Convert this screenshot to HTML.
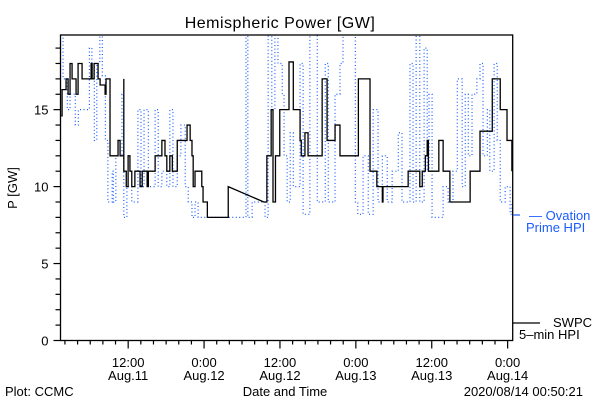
<!DOCTYPE html>
<html><head><meta charset="utf-8"><style>
body{margin:0;background:#fff}
svg{display:block;font-family:"Liberation Sans",sans-serif}
</style></head><body>
<svg id="chart" width="600" height="400" viewBox="0 0 600 400" xmlns="http://www.w3.org/2000/svg">
<rect width="600" height="400" fill="#fff"/>
<text x="280" y="28" font-size="16" text-anchor="middle" letter-spacing="0.5">Hemispheric Power [GW]</text>
<text transform="translate(17,188) rotate(-90)" font-size="13" text-anchor="middle">P [GW]</text>
<text x="285" y="396" font-size="13" text-anchor="middle">Date and Time</text>
<text x="5" y="396" font-size="13">Plot: CCMC</text>
<text x="583" y="396" font-size="13" text-anchor="end">2020/08/14 00:50:21</text>
<g id="axes"></g>
<clipPath id="clip"><rect x="60.5" y="35" width="452.2" height="305.5"/></clipPath>
<g id="series" clip-path="url(#clip)"></g>
<rect x="60.5" y="35" width="452.2" height="305.5" fill="none" stroke="#000" stroke-width="1.3"/>
<line x1="513" y1="215" x2="520" y2="215" stroke="#1a5cff" stroke-width="1.2"/>
<text x="529" y="220" font-size="13" fill="#1a5cff">— Ovation</text>
<text x="526" y="232" font-size="13" fill="#1a5cff">Prime HPI</text>
<line x1="513" y1="323" x2="540" y2="323" stroke="#000" stroke-width="1.2"/>
<text x="553" y="327" font-size="13">SWPC</text>
<text x="519" y="339" font-size="13">5–min HPI</text>
</svg>
<script>
const swpcHours=[1.4,1.55,2.18,2.5,2.81,3.13,3.76,4.08,4.71,6.14,6.3,6.61,7.24,7.56,8.35,8.5,9.13,9.13,10.4,10.4,10.72,11.31,11.31,11.7,11.99,12.28,12.57,13.06,13.88,14.22,15.0,15.19,16.26,16.26,17.33,17.33,17.82,18.11,18.59,18.98,19.76,21.02,21.31,21.8,22.09,22.28,22.57,23.64,23.84,24.52,27.33,27.82,33.45,33.93,34.61,34.9,35.29,35.97,37.43,38.11,39.18,39.37,39.95,40.44,41.12,42.67,42.96,43.45,44.42,44.71,45.49,45.97,48.4,48.98,50.24,51.32,52.19,52.29,56.07,56.27,57.82,58.11,58.5,58.99,59.28,59.47,60.54,61.12,61.8,62.87,65.3,66.07,67.63,69.57,70.05,70.83,71.9,72.67];
const swpcValues=[14.6,16.3,17,16,18,17,16,18,17,18,17,18,17,16.6,16,17,17,12,12,13,12,17,11,10,12,11,10,11,10,11,10,11,11,12,12,13,12,11,12,11,13,13,14,13,12,10,11,10,9,8,8,10,9,12,15,9,12,15,18.1,15,13,12,13.5,12,12,17,17,13,13,14,12,12,17,17,11,10,9,10,10,11,11,10,11,12,13,11,11,13,11,9,9,11,13.6,17,17,15,13,11];
const ovationHours=[1.6,1.7,2.38,2.81,3.64,4.12,5.68,5.87,6.26,6.65,7.04,7.52,7.91,8.4,8.79,9.47,9.66,10.05,11.02,11.31,11.8,12.57,13.54,14.03,14.51,15.19,16.26,16.75,17.33,18.11,18.59,19.08,19.76,20.34,21.02,21.5,22.09,22.57,23.06,23.64,30.44,30.63,30.92,31.6,33.64,34.13,34.71,35.2,35.68,36.36,36.65,37.14,37.62,38.11,39.18,39.66,40.73,41.9,43.16,43.64,44.71,45.49,45.97,46.75,47.92,48.3,49.14,49.96,50.73,51.51,52.19,52.96,53.74,54.71,55.3,56.56,57.04,57.53,58.11,58.79,59.28,59.57,60.05,61.03,61.8,62.58,63.36,64.04,64.81,65.3,65.78,66.37,67.14,67.63,68.11,68.79,69.18,69.86,70.35,70.83,71.61,72.39,72.67];
const ovationValues=[21,17,15,16,14,15,15,19,18,13,18,21,17.2,13,9,11,9,12,16,8,10,9,15,10,15,10,15,10,11,10,15,10,12,14,10,9,8,9,8,8,8,21,8,9,8,21,15,21,18,16,12,9,13.5,10,18,8.2,21,9,18,9,16,18,21,21,9,8.2,12,8.2,15,9,12,9,11,13.5,9,18,9,21,9,19,11,16,8,8,10,9,11,17,10,16,12,16,17,18,12,15,11,18,13,9,10,8.2,9];
const yTickValues=[0,5,10,15];
const xTickHours=[12,24,36,48,60,72];
const xTickTimes=["12:00","0:00","12:00","0:00","12:00","0:00"];
const xTickDates=["Aug.11","Aug.12","Aug.12","Aug.13","Aug.13","Aug.14"];

const NS="http://www.w3.org/2000/svg";
const X0=60.5,X1=512.7,H0=1.3,H1=72.8,YB=340.5,PPU=15.39;
function xs(h){return X0+(h-H0)*(X1-X0)/(H1-H0);}
function ys(v){return YB-v*PPU;}
function mk(tag,attrs,parent){const e=document.createElementNS(NS,tag);for(const k in attrs)e.setAttribute(k,attrs[k]);parent.appendChild(e);return e;}
function stepPts(hs,vs){
  const p=[];
  for(let i=0;i<hs.length;i++){
    if(i>0 && hs[i]-hs[i-1]<3) p.push(xs(hs[i])+','+ys(vs[i-1]));
    p.push(xs(hs[i])+','+ys(vs[i]));
  }
  return p.join(' ');
}
const axes=document.getElementById('axes');
const series=document.getElementById('series');
for(let v=0;v<=19;v++){
  const major=v%5===0;
  const t=mk('line',{x1:X0-(major?7:5),x2:X0,y1:ys(v),y2:ys(v),stroke:'#000','stroke-width':1.2},axes);
  
  
}
yTickValues.forEach(v=>{
  const t=mk('text',{x:X0-12,y:ys(v)+5,'font-size':13,'text-anchor':'end'},axes);
  t.textContent=String(v);
  
  
});
for(let h=2;h<=72;h+=2){
  const major=h%12===0;
  const t=mk('line',{x1:xs(h),x2:xs(h),y1:YB,y2:YB+(major?8:4),stroke:'#000','stroke-width':1.2},axes);
  
  
}
xTickHours.forEach((h,i)=>{
  const a=mk('text',{x:xs(h),y:367,'font-size':13,'text-anchor':'middle'},axes);
  a.textContent=xTickTimes[i];
  
  
  const b=mk('text',{x:xs(h),y:380,'font-size':13,'text-anchor':'middle'},axes);
  b.textContent=xTickDates[i];
  
  
});
const ov=mk('polyline',{points:stepPts(ovationHours,ovationValues),fill:'none',stroke:'#1a5cff','stroke-width':1.2,'stroke-dasharray':'1 2.5'},series);


const sw=mk('polyline',{points:stepPts(swpcHours,swpcValues),fill:'none',stroke:'#000','stroke-width':1.3},series);


</script>
</body></html>
